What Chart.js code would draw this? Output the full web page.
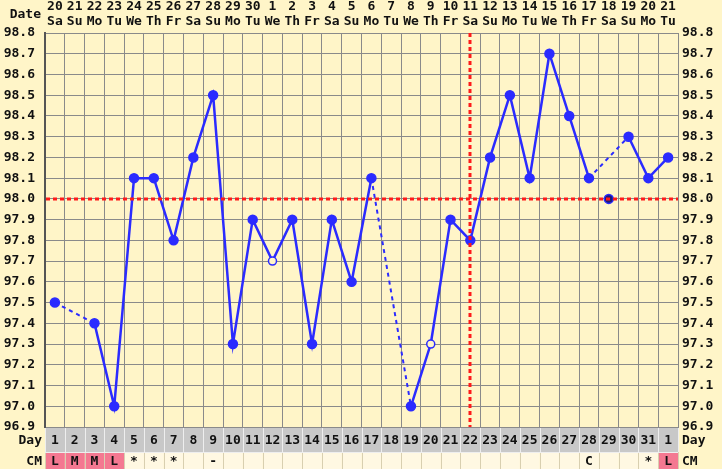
<!DOCTYPE html>
<html>
<head>
<meta charset="utf-8">
<script src="https://cdn.jsdelivr.net/npm/chart.js@4"></script>
<style>
	html, body { margin: 0; padding: 0; background: #FFF5C8; }
	#wrap { width: 722px; height: 469px; }
</style>
</head>
<body>
<div id="wrap"><canvas id="chart" width="722" height="469"></canvas></div>
<script>
// chart values
const cycleDays = ["1","2","3","4","5","6","7","8","9","10","11","12","13","14","15","16",
	"17","18","19","20","21","22","23","24","25","26","27","28","29","30","31","1"];
const dates = ["20","21","22","23","24","25","26","27","28","29","30","1","2","3","4","5",
	"6","7","8","9","10","11","12","13","14","15","16","17","18","19","20","21"];
const weekdays = ["Sa","Su","Mo","Tu","We","Th","Fr","Sa","Su","Mo","Tu","We","Th","Fr","Sa","Su",
	"Mo","Tu","We","Th","Fr","Sa","Su","Mo","Tu","We","Th","Fr","Sa","Su","Mo","Tu"];
const temps = [97.5, null, 97.4, 97.0, 98.1, 98.1, 97.8, 98.2, 98.5, 97.3, 97.9, 97.7, 97.9, 97.3, 97.9, 97.6,
	98.1, null, 97.0, 97.3, 97.9, 97.8, 98.2, 98.5, 98.1, 98.7, 98.4, 98.1, null, 98.3, 98.1, 98.2];
const discarded = [null, null, null, null, null, null, null, null, null, null, null, null, null, null, null, null,
	null, null, null, null, null, null, null, null, null, null, null, null, 98.0, null, null, null];
const openDays = [12, 20];      // cycle days drawn with hollow markers
const cmValues = ["L","M","M","L","*","*","*","","-","","","","","","","",
	"","","","","","","","","","","","C","","","*","L"];
const coverline = 98.0;
const ovulationIndex = 21;      // cycle day 22

const BG = "#FFF5C8";
const BLUE = "#2b2bff";
const FONT = "bold 13px 'DejaVu Sans Mono', monospace";

const pointBg = temps.map((t, i) => openDays.includes(i + 1) ? BG : BLUE);
const pointR = temps.map((t, i) => openDays.includes(i + 1) ? 4 : 4.5);

// dashed where the line jumps over a missing day
const skipped = (ctx, value) => (ctx.p0.skip || ctx.p1.skip ? value : undefined);

const chartDecor = {
	id: "chartDecor",
	beforeDraw(chart) {
		const ctx = chart.ctx;
		ctx.save();
		ctx.fillStyle = BG;
		ctx.fillRect(0, 0, chart.width, chart.height);
		ctx.restore();
	},
	afterDatasetsDraw(chart) {
		const ctx = chart.ctx;
		const x = chart.scales.x, y = chart.scales.y;
		const area = chart.chartArea;
		ctx.save();
		// coverline and ovulation line
		ctx.strokeStyle = "#ff1a1a";
		ctx.lineWidth = 3;
		ctx.setLineDash([4, 3]);
		const cy = Math.round(y.getPixelForValue(coverline));
		ctx.beginPath();
		ctx.moveTo(area.left + 1, cy);
		ctx.lineTo(area.right, cy);
		ctx.stroke();
		const ox = Math.round(x.getPixelForValue(ovulationIndex));
		ctx.beginPath();
		ctx.moveTo(ox, area.top);
		ctx.lineTo(ox, area.bottom);
		ctx.stroke();
		ctx.setLineDash([]);
		ctx.restore();
	},
	afterDraw(chart) {
		const ctx = chart.ctx;
		const x = chart.scales.x;
		const area = chart.chartArea;
		const w = x.getPixelForValue(1) - x.getPixelForValue(0);
		ctx.save();
		ctx.font = FONT;
		ctx.fillStyle = "#111";
		ctx.textBaseline = "middle";

		// header
		ctx.textAlign = "right";
		ctx.fillText("Date", 41, 15);
		ctx.textAlign = "center";
		for (let i = 0; i < dates.length; i++) {
			const cx = x.getPixelForValue(i);
			ctx.fillText(dates[i], cx, 7);
			ctx.fillText(weekdays[i], cx, 22);
		}

		// Day row
		const dayTop = area.bottom + 1, dayH = 24;
		const cmTop = dayTop + dayH, cmH = chart.height - cmTop;
		ctx.fillStyle = "#c8c8c8";
		ctx.fillRect(area.left, dayTop, area.right - area.left, dayH);
		for (let i = 0; i < cmValues.length; i++) {
			const left = x.getPixelForValue(i) - w / 2;
			ctx.fillStyle = cmValues[i] === "L" || cmValues[i] === "M" ? "#f47891" : "#fff8e2";
			ctx.fillRect(left, cmTop, w, cmH);
		}
		ctx.lineWidth = 1;
		for (let i = 0; i <= cycleDays.length; i++) {
			const bx = Math.round(x.getPixelForValue(i) - w / 2) + 0.5;
			ctx.strokeStyle = "#eeeeee";
			ctx.beginPath();
			ctx.moveTo(bx, dayTop);
			ctx.lineTo(bx, cmTop);
			ctx.stroke();
			ctx.strokeStyle = "#d8cfb0";
			ctx.beginPath();
			ctx.moveTo(bx, cmTop);
			ctx.lineTo(bx, chart.height);
			ctx.stroke();
		}
		ctx.strokeStyle = "#eeeeee";
		ctx.beginPath();
		ctx.moveTo(area.left, cmTop + 0.5);
		ctx.lineTo(area.right, cmTop + 0.5);
		ctx.stroke();

		ctx.fillStyle = "#111";
		ctx.textAlign = "center";
		for (let i = 0; i < cycleDays.length; i++) {
			const cx = x.getPixelForValue(i);
			ctx.fillText(cycleDays[i], cx, dayTop + dayH / 2 + 1);
			if (cmValues[i]) ctx.fillText(cmValues[i], cx, cmTop + cmH / 2 + 1);
		}
		ctx.textAlign = "right";
		ctx.fillText("Day", 42, dayTop + dayH / 2 + 1);
		ctx.fillText("CM", 42, cmTop + cmH / 2 + 1);
		ctx.textAlign = "left";
		ctx.fillText("Day", 682, dayTop + dayH / 2 + 1);
		ctx.fillText("CM", 682, cmTop + cmH / 2 + 1);
		ctx.restore();
	}
};

const tickFmt = v => Number(v).toFixed(1);

new Chart(document.getElementById("chart"), {
	type: "line",
	data: {
		labels: cycleDays,
		datasets: [
			{
				data: temps,
				spanGaps: true,
				borderColor: BLUE,
				borderWidth: 2.5,
				pointBackgroundColor: pointBg,
				pointBorderColor: BLUE,
				pointBorderWidth: 1.5,
				pointRadius: pointR,
				tension: 0,
				segment: {
					borderDash: ctx => skipped(ctx, [4, 4]),
					borderWidth: ctx => skipped(ctx, 2)
				}
			},
			{
				data: discarded,
				showLine: false,
				pointBackgroundColor: "#1a1a7a",
				pointBorderColor: BLUE,
				pointBorderWidth: 1.5,
				pointRadius: 4.5
			}
		]
	},
	options: {
		responsive: false,
		animation: false,
		devicePixelRatio: 1,
		layout: { padding: { top: 33, bottom: 42, left: 0, right: 0 } },
		plugins: { legend: { display: false }, tooltip: { enabled: false } },
		scales: {
			x: {
				offset: true,
				grid: { offset: true, color: "#8a8a8a", drawTicks: false },
				border: { display: false },
				ticks: { display: false },
				afterFit: s => { s.height = 0; }
			},
			y: {
				min: 96.9,
				max: 98.8,
				grid: { color: "#8a8a8a", drawTicks: false },
				border: { color: "#555", width: 2 },
				ticks: { stepSize: 0.1, padding: 10, color: "#111", font: { family: "'DejaVu Sans Mono', monospace", size: 13, weight: "bold" }, callback: tickFmt },
				afterFit: s => { s.width = 45; }
			},
			y2: {
				position: "right",
				min: 96.9,
				max: 98.8,
				grid: { display: false, drawTicks: false },
				border: { color: "#8a8a8a" },
				ticks: { stepSize: 0.1, padding: 4, color: "#111", font: { family: "'DejaVu Sans Mono', monospace", size: 13, weight: "bold" }, callback: tickFmt },
				afterFit: s => { s.width = 44; }
			}
		}
	},
	plugins: [chartDecor]
});
</script>
</body>
</html>
